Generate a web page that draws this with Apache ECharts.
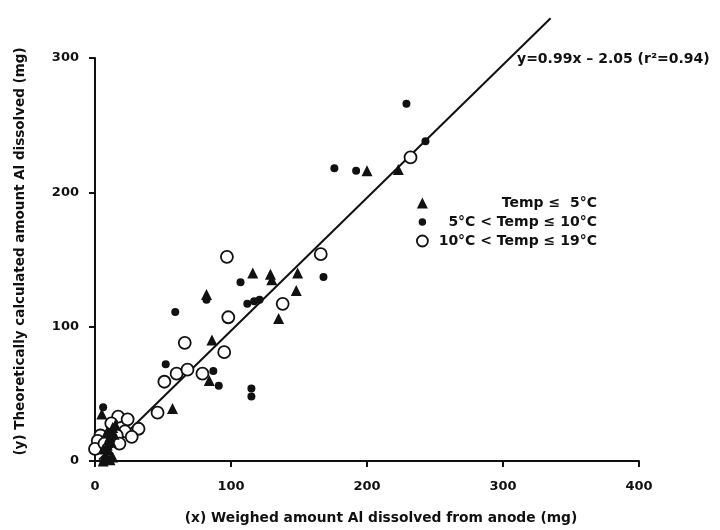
<!DOCTYPE html>
<html>
<head>
<meta charset="utf-8">
<title>Al dissolved from anode</title>
<script src="https://cdn.jsdelivr.net/npm/echarts@6/dist/echarts.min.js"></script>
<style>
  html, body { margin: 0; padding: 0; background: #fff; }
  #chart { width: 720px; height: 530px; }
</style>
</head>
<body>
<div id="chart"></div>
<script>
// Weighed (x) vs. theoretically calculated (y) amount of Al dissolved, mg
const xTicks = [0, 100, 200, 300, 400];
const yTicks = [0, 100, 200, 300];

const seriesNames = ['Temp ≤  5°C', '5°C < Temp ≤ 10°C', '10°C < Temp ≤ 19°C'];

// Temp ≤ 5 °C
const coldPoints = [
  [5, 35], [6, 0], [8, 4], [10, 8], [9, 12], [12, 14], [11, 18], [14, 20],
  [13, 25], [15, 27], [7, 2], [13, 3], [10, 16], [6, 9], [11, 1], [9, 22],
  [57, 39], [82, 124], [86, 90], [84, 60], [116, 140], [129, 139], [130, 135],
  [149, 140], [148, 127], [135, 106], [200, 216], [223, 217]
];

// 5 °C < Temp ≤ 10 °C
const midPoints = [
  [6, 40], [59, 111], [52, 72], [82, 120], [107, 133], [112, 117], [117, 119],
  [121, 120], [168, 137], [115, 54], [115, 48], [87, 67], [91, 56],
  [176, 218], [192, 216], [229, 266], [243, 238]
];

// 10 °C < Temp ≤ 19 °C
const warmPoints = [
  [17, 33], [24, 31], [12, 28], [32, 24], [22, 22], [16, 19], [27, 18], [4, 19],
  [2, 15], [18, 13], [0, 9], [7, 13],
  [46, 36], [51, 59], [60, 65], [68, 68], [79, 65], [66, 88], [95, 81],
  [98, 107], [97, 152], [138, 117], [166, 154], [232, 226]
];

// Least-squares fit
const fitSlope = 0.99;
const fitIntercept = -2.05;
const fitR2 = 0.94;
const fitXRange = [3, 335];

const fitLine = fitXRange.map(x => [x, fitSlope * x + fitIntercept]);
const fitText = 'y=' + fitSlope.toFixed(2) + 'x – ' + Math.abs(fitIntercept).toFixed(2) +
  ' (r²=' + fitR2.toFixed(2) + ')';

const FONT = 'DejaVu Sans';
const INK = '#111';

// small filled dot centred in the legend icon box
const DOT_ICON = 'path://M0,0M22,22M11,3.5A7.5,7.5,0,1,1,10.99,3.5Z';

const chart = echarts.init(document.getElementById('chart'), null, { renderer: 'canvas' });

chart.setOption({
  animation: false,
  backgroundColor: '#fff',
  textStyle: { fontFamily: FONT, color: INK },
  grid: { left: 95, right: 81, top: 58, bottom: 68, containLabel: false },
  xAxis: {
    type: 'value',
    min: xTicks[0],
    max: xTicks[xTicks.length - 1],
    interval: 100,
    name: '(x) Weighed amount Al dissolved from anode (mg)',
    nameLocation: 'middle',
    nameGap: 50,
    nameTextStyle: { fontFamily: FONT, fontSize: 13.8, fontWeight: 'bold', color: INK, padding: [0, 0, 0, 28] },
    axisLine: { lineStyle: { color: INK, width: 2 } },
    axisTick: { inside: false, length: 6, lineStyle: { color: INK, width: 2 } },
    axisLabel: { margin: 19, fontFamily: FONT, fontSize: 13, fontWeight: 'bold', color: INK },
    splitLine: { show: false }
  },
  yAxis: {
    type: 'value',
    min: yTicks[0],
    max: yTicks[yTicks.length - 1],
    interval: 100,
    name: '(y) Theoretically calculated amount Al dissolved (mg)',
    nameLocation: 'middle',
    nameGap: 68,
    nameTextStyle: { fontFamily: FONT, fontSize: 13.5, fontWeight: 'bold', color: INK, padding: [0, 0, 0, 16] },
    axisLine: { lineStyle: { color: INK, width: 2 } },
    axisTick: { inside: false, length: 6, lineStyle: { color: INK, width: 2 } },
    axisLabel: { margin: 16, fontFamily: FONT, fontSize: 13, fontWeight: 'bold', color: INK },
    splitLine: { show: false }
  },
  legend: {
    orient: 'vertical',
    left: 411,
    top: 191,
    itemWidth: 11,
    itemHeight: 11,
    itemGap: 5,
    selectedMode: false,
    data: [
      { name: seriesNames[0], icon: 'triangle', itemStyle: { color: INK, borderWidth: 0 } },
      { name: seriesNames[1], icon: DOT_ICON, itemStyle: { color: INK, borderWidth: 0 } },
      { name: seriesNames[2], icon: 'circle', itemStyle: { color: '#fff', borderColor: INK, borderWidth: 1.8 } }
    ],
    formatter: name => '{t|' + name + '}',
    textStyle: {
      fontFamily: FONT,
      color: INK,
      rich: {
        t: { width: 164, align: 'right', fontFamily: FONT, fontSize: 14, fontWeight: 'bold', color: INK, lineHeight: 15 }
      }
    }
  },
  graphic: [
    {
      type: 'text',
      left: 517,
      top: 52,
      style: { text: fitText, fontFamily: FONT, fontSize: 14, fontWeight: 'bold', fill: INK }
    }
  ],
  series: [
    {
      name: 'fit',
      type: 'line',
      data: fitLine,
      clip: false,
      symbol: 'none',
      silent: true,
      lineStyle: { color: INK, width: 2 },
      z: 1
    },
    {
      name: seriesNames[2],
      type: 'scatter',
      data: warmPoints,
      symbol: 'circle',
      symbolSize: 12,
      itemStyle: { color: '#fff', borderColor: INK, borderWidth: 1.8, opacity: 1 },
      z: 2
    },
    {
      name: seriesNames[0],
      type: 'scatter',
      data: coldPoints,
      symbol: 'triangle',
      symbolSize: 11,
      itemStyle: { color: INK, opacity: 1 },
      z: 3
    },
    {
      name: seriesNames[1],
      type: 'scatter',
      data: midPoints,
      symbol: 'circle',
      symbolSize: 8,
      itemStyle: { color: INK, opacity: 1 },
      z: 3
    }
  ]
});
</script>
</body>
</html>
